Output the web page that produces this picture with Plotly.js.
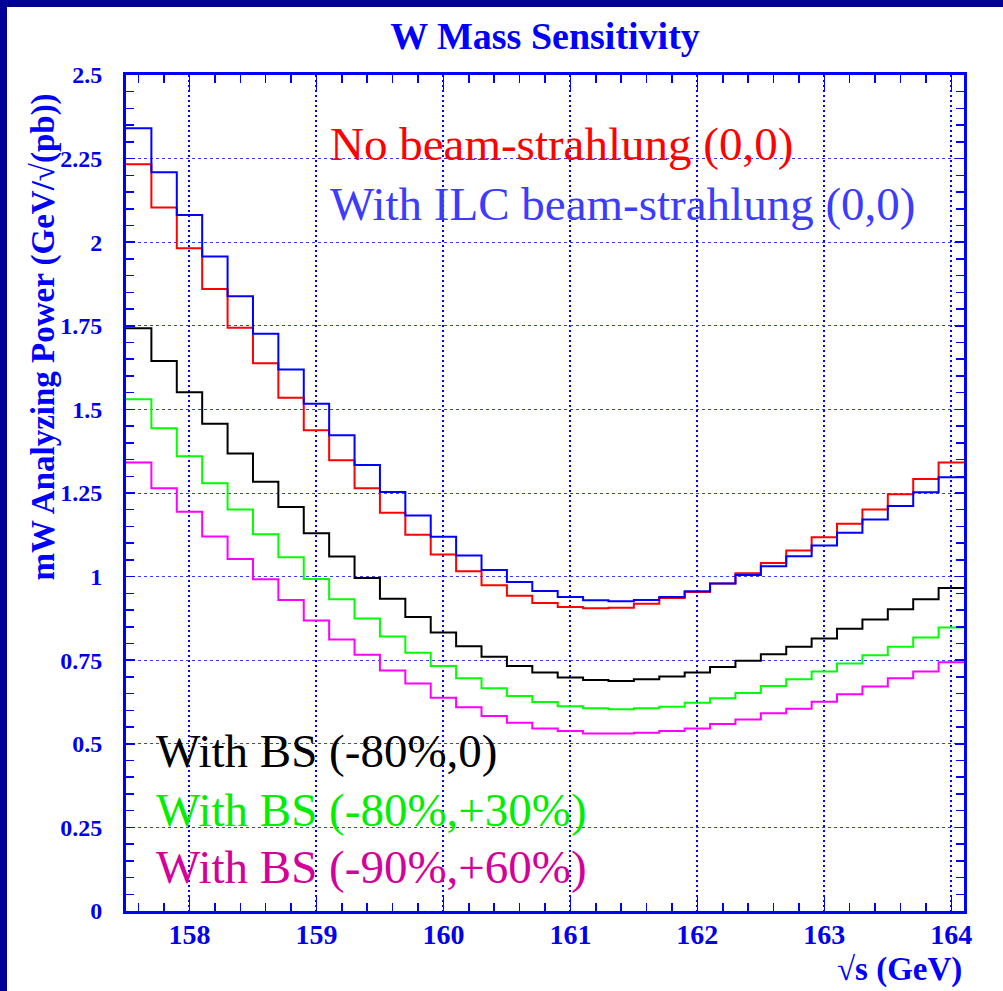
<!DOCTYPE html>
<html>
<head>
<meta charset="utf-8">
<script src="https://cdn.plot.ly/plotly-3.0.1.min.js"></script>
<style>
  html, body { margin: 0; padding: 0; background: #000096; width: 1003px; height: 991px; overflow: hidden; }
  #chart { position: absolute; left: 7px; top: 7px; width: 996px; height: 984px; background: #ffffff; }
</style>
</head>
<body>
<div id="chart"></div>
<script>
// Bin edges of sqrt(s) in GeV (bin width 0.2 GeV)
const binEdges = [157.5, 157.7, 157.9, 158.1, 158.3, 158.5, 158.7, 158.9, 159.1, 159.3, 159.5,
                  159.7, 159.9, 160.1, 160.3, 160.5, 160.7, 160.9, 161.1, 161.3, 161.5,
                  161.7, 161.9, 162.1, 162.3, 162.5, 162.7, 162.9, 163.1, 163.3, 163.5,
                  163.7, 163.9, 164.1];

// mW analyzing power per bin
const noBS = [2.233, 2.104, 1.982, 1.860, 1.744, 1.638, 1.535, 1.438, 1.348, 1.264, 1.191,
              1.125, 1.066, 1.016, 0.974, 0.943, 0.921, 0.909, 0.905, 0.907, 0.919, 0.936,
              0.954, 0.979, 1.010, 1.041, 1.078, 1.118, 1.158, 1.201, 1.246, 1.292, 1.341];
const ilcBS = [2.341, 2.209, 2.081, 1.957, 1.838, 1.726, 1.619, 1.517, 1.423, 1.334, 1.253,
               1.183, 1.119, 1.063, 1.020, 0.984, 0.957, 0.939, 0.929, 0.926, 0.930, 0.939,
               0.956, 0.979, 1.005, 1.031, 1.061, 1.093, 1.131, 1.171, 1.211, 1.252, 1.297];
const bs80_0 = [1.743, 1.645, 1.551, 1.457, 1.368, 1.284, 1.208, 1.130, 1.060, 0.996, 0.934,
                0.879, 0.833, 0.792, 0.760, 0.733, 0.713, 0.698, 0.691, 0.688, 0.693, 0.701,
                0.713, 0.730, 0.748, 0.768, 0.790, 0.815, 0.844, 0.872, 0.902, 0.932, 0.966];
const bs80_30 = [1.530, 1.444, 1.360, 1.279, 1.201, 1.127, 1.058, 0.993, 0.932, 0.875, 0.821,
                 0.772, 0.733, 0.696, 0.666, 0.643, 0.625, 0.612, 0.606, 0.603, 0.606, 0.611,
                 0.623, 0.636, 0.652, 0.673, 0.693, 0.716, 0.740, 0.765, 0.790, 0.818, 0.848];
const bs90_60 = [1.341, 1.264, 1.194, 1.120, 1.053, 0.992, 0.930, 0.869, 0.812, 0.766, 0.719,
                 0.680, 0.638, 0.609, 0.583, 0.563, 0.546, 0.538, 0.531, 0.531, 0.533, 0.538,
                 0.546, 0.559, 0.573, 0.591, 0.605, 0.626, 0.648, 0.671, 0.696, 0.716, 0.744];

const seriesNames = ["No beam-strahlung (0,0)", "With ILC beam-strahlung (0,0)",
                     "With BS (-80%,0)", "With BS (-80%,+30%)", "With BS (-90%,+60%)"];

const xTickVals = [158, 159, 160, 161, 162, 163, 164];
const xTickText = ["158", "159", "160", "161", "162", "163", "164"];
const yTickVals = [0, 0.25, 0.5, 0.75, 1, 1.25, 1.5, 1.75, 2, 2.25, 2.5];
const yTickText = ["0", "0.25", "0.5", "0.75", "1", "1.25", "1.5", "1.75", "2", "2.25", "2.5"];

const lineColors = ["#ff0000", "#0000ff", "#000000", "#00ff00", "#ff00ff"];
const textColors = ["#ff0000", "#3c3cff", "#000000", "#00ee00", "#d4009a"];
const allSeries = [noBS, ilcBS, bs80_0, bs80_30, bs90_60];

const traces = allSeries.map((vals, i) => ({
  type: "scatter",
  mode: "lines",
  name: seriesNames[i],
  x: binEdges,
  y: vals.concat([vals[vals.length - 1]]),
  line: { shape: "hv", color: lineColors[i], width: 2 },
  hoverinfo: "x+y"
}));

const serif = "Liberation Serif, Times New Roman, serif";
const axisBlue = "#0000ff";

// legend text placement (paper coords relative to plot area)
const legendPos = [
  { x: 0.2405, y: 0.9175 },
  { x: 0.2405, y: 0.8457 },
  { x: 0.0334, y: 0.1914 },
  { x: 0.0334, y: 0.1208 },
  { x: 0.0334, y: 0.0526 }
];

const annotations = seriesNames.map((t, i) => ({
  text: t, xref: "paper", yref: "paper",
  x: legendPos[i].x, y: legendPos[i].y,
  xanchor: "left", yanchor: "middle", showarrow: false,
  font: { family: serif, size: 47, color: textColors[i] }
}));

// x-axis title (right-aligned, as in the reference)
annotations.push({
  text: "√s (GeV)", xref: "paper", yref: "paper",
  x: 1.0, y: -0.0455, xanchor: "right", yanchor: "top", showarrow: false,
  font: { family: serif, size: 33, color: axisBlue, weight: "bold" }
});
// y-axis title (top-aligned, as in the reference)
annotations.push({
  text: "mW Analyzing Power (GeV/√(pb))", xref: "paper", yref: "paper",
  x: -0.0990, y: 0.9797, xanchor: "center", yanchor: "top", textangle: -90, showarrow: false,
  font: { family: serif, size: 33, color: axisBlue, weight: "bold" }
});

const layout = {
  width: 996, height: 984,
  paper_bgcolor: "#ffffff", plot_bgcolor: "#ffffff",
  margin: { l: 119, r: 39, t: 68, b: 80 },
  showlegend: false,
  title: {
    text: "W Mass Sensitivity",
    font: { family: serif, size: 38, color: axisBlue, weight: "bold" },
    x: 0.5, xref: "paper", y: 1 - 29 / 984, yanchor: "middle"
  },
  xaxis: {
    range: [157.5, 164.1],
    tickmode: "array", tickvals: xTickVals, ticktext: xTickText,
    ticks: "inside", ticklen: 15, tickwidth: 1.5, tickcolor: axisBlue,
    showline: true, linecolor: axisBlue, linewidth: 3, mirror: "allticks",
    showgrid: true, gridcolor: "#0000ff", gridwidth: 2, griddash: "2px,3px",
    zeroline: false,
    ticklabelstandoff: -4,
    tickfont: { family: serif, size: 28, color: "#0000ee", weight: "bold" },
    minor: { tickmode: "linear", tick0: 158, dtick: 0.2, ticks: "inside", ticklen: 8, tickwidth: 1.5, tickcolor: axisBlue, showgrid: false }
  },
  yaxis: {
    range: [0, 2.5],
    tickmode: "array", tickvals: yTickVals, ticktext: yTickText,
    ticks: "inside", ticklen: 9, tickwidth: 1.5, tickcolor: axisBlue,
    showline: true, linecolor: axisBlue, linewidth: 3, mirror: "allticks",
    showgrid: true, gridcolor: "#3a3aff", gridwidth: 1, griddash: "3px,3px",
    zeroline: false,
    ticklabelstandoff: 16,
    tickfont: { family: serif, size: 24, color: "#0000ee", weight: "bold" },
    minor: { tickmode: "linear", tick0: 0, dtick: 0.05, ticks: "inside", ticklen: 8, tickwidth: 1.5, tickcolor: axisBlue, showgrid: false }
  },
  annotations: annotations
};

Plotly.newPlot("chart", traces, layout, { staticPlot: true, displayModeBar: false });
</script>
</body>
</html>
